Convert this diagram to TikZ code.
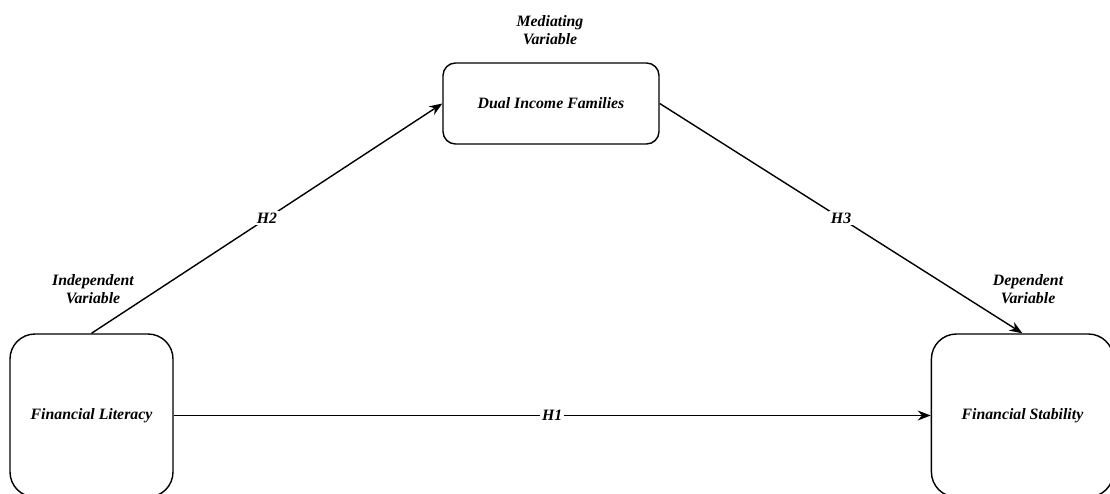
\documentclass[tikz,border=0pt]{standalone}
\usepackage{fontspec}
\setmainfont{Liberation Serif}
\usepackage{tikz}
\usetikzlibrary{arrows.meta}
\usetikzlibrary{positioning}

\begin{document}
\begin{tikzpicture}[-,>={Stealth[length=2.6mm,width=2mm]},node distance=3cm,line width=0.8pt,
                    var node/.style={rectangle,draw,rounded corners=0.5cm,align=center,
                      minimum width=3.26cm,minimum height=3.26cm,font=\fontsize{9}{10.5}\selectfont\bfseries\itshape},
                    role/.style={align=center,font=\fontsize{9}{10.5}\selectfont\bfseries\itshape}]
  \useasboundingbox (0,0) rectangle (22.2,9.86);

  \node[var node] (lit) at (1.83,1.55) {Financial Literacy};
  \node[var node] (stab) [right=15.14cm of lit,minimum width=3.64cm] {Financial Stability};
  \node[var node] (dual) at (11.02,7.79) [minimum width=4.32cm,minimum height=1.62cm,rounded corners=0.25cm] {Dual Income Families};

  \node[role] (indep) at (1.86,4.08) {Independent\\Variable};
  \node[role] (dep) at (20.56,4.08) {Dependent\\Variable};
  \node[role] (med) at (11.0,9.26) {Mediating\\Variable};

  \path[every node/.style={fill=white,inner sep=1pt,font=\fontsize{9}{10.5}\selectfont\bfseries\itshape}]
    (lit) edge [->] node {H1} (stab)
    (lit.north) edge [->] node {H2} (dual.west)
    (dual.east) edge [->] node {H3} (stab.north)
    ;
\end{tikzpicture}
\end{document}
